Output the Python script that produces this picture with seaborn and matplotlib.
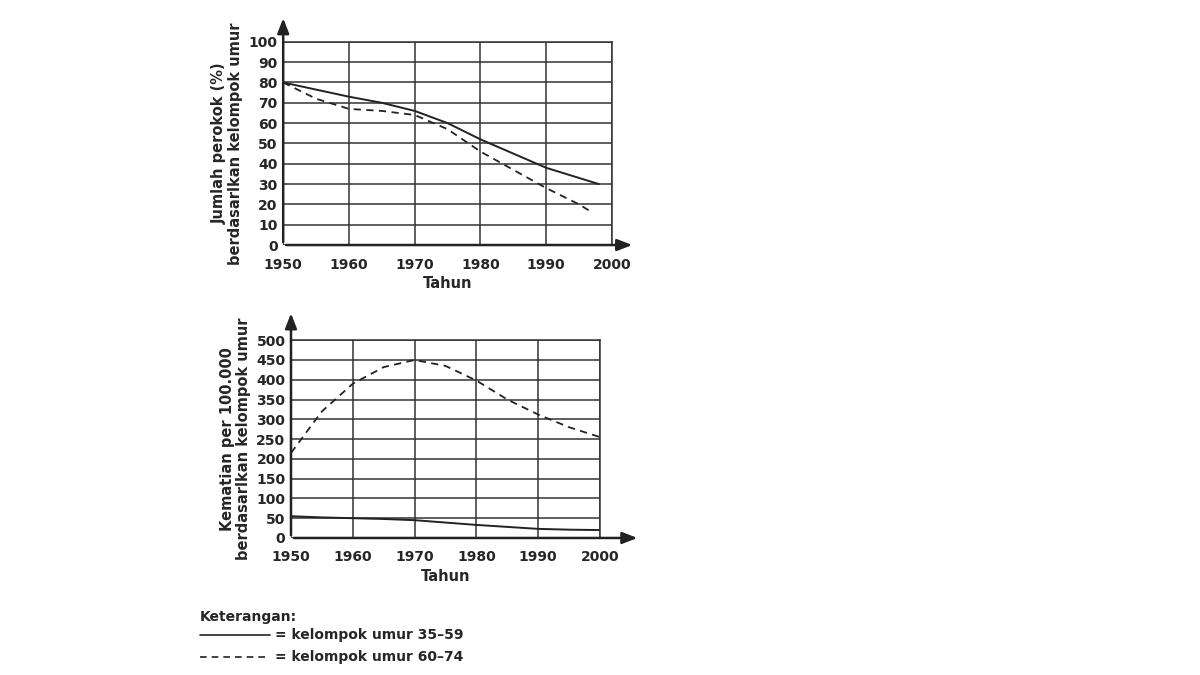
import matplotlib
matplotlib.use("Agg")
import matplotlib.pyplot as plt
import seaborn as sns
import pandas as pd

years_top_a = [1950, 1955, 1960, 1965, 1970, 1975, 1980, 1985, 1990, 1995, 1998]
smokers_35_59 = [80, 76.5, 73, 70, 66, 60, 52, 45, 38, 33, 30]
years_top_b = [1950, 1955, 1960, 1965, 1970, 1975, 1980, 1985, 1990, 1995, 1997]
smokers_60_74 = [80, 72, 67, 66, 64, 57, 46, 37, 28, 20, 16]

years_bot = [1950, 1955, 1960, 1965, 1970, 1975, 1980, 1985, 1990, 1995, 2000]
deaths_35_59 = [55, 52, 50, 48, 45, 39, 33, 28, 23, 21, 20]
deaths_60_74 = [215, 320, 390, 432, 450, 435, 398, 350, 312, 280, 255]

x_ticks = [1950, 1960, 1970, 1980, 1990, 2000]
top_yticks = list(range(0, 101, 10))
bot_yticks = list(range(0, 501, 50))

plt.rcParams["font.family"] = "Open Sans"
plt.rcParams["font.weight"] = "bold"
sns.set_style("white")
fig = plt.figure(figsize=(12, 6.75), dpi=100)

def style(ax, ylim, yticks, ylabel, xarrow, yarrow):
    ax.set_xlim(1950, 2000)
    ax.set_ylim(*ylim)
    ax.set_xticks(x_ticks)
    ax.set_yticks(yticks)
    ax.set_xticklabels([str(v) for v in x_ticks], fontsize=10, fontweight="bold")
    ax.set_yticklabels([str(v) for v in yticks], fontsize=10, fontweight="bold")
    ax.tick_params(axis="y", length=0, pad=4)
    ax.tick_params(axis="x", length=0, pad=9)
    ax.grid(True, color="#333333", lw=1.1)
    for s in ["top", "right"]:
        ax.spines[s].set_color("#333333"); ax.spines[s].set_linewidth(1.1)
    for s in ["left", "bottom"]:
        ax.spines[s].set_visible(False)
    ax.annotate("", xy=(xarrow, 0), xytext=(0, 0), xycoords="axes fraction",
                arrowprops=dict(arrowstyle="-|>,head_width=0.35,head_length=0.9", color="#222222", lw=1.8), annotation_clip=False)
    ax.annotate("", xy=(0, yarrow), xytext=(0, 0), xycoords="axes fraction",
                arrowprops=dict(arrowstyle="-|>,head_width=0.35,head_length=0.9", color="#222222", lw=1.8), annotation_clip=False)
    ax.set_xlabel("Tahun", fontsize=10.5, fontweight="bold", labelpad=3)
    ax.set_ylabel(ylabel, fontsize=10.5, fontweight="bold", linespacing=1.1, labelpad=4)

ax1 = fig.add_axes([0.236, 0.637, 0.274, 0.301])
sns.lineplot(x=years_top_a, y=smokers_35_59, ax=ax1, color="#222222", lw=1.4)
ax1.plot(years_top_b, smokers_60_74, color="#222222", lw=1.3, ls=(0, (4, 3)))
style(ax1, (0, 100), top_yticks, "Jumlah perokok (%)\nberdasarlkan kelompok umur", 1.07, 1.13)

ax2 = fig.add_axes([0.2425, 0.203, 0.2575, 0.293])
sns.lineplot(x=years_bot, y=deaths_35_59, ax=ax2, color="#222222", lw=1.4)
ax2.plot(years_bot, deaths_60_74, color="#222222", lw=1.3, ls=(0, (4, 3)))
style(ax2, (0, 500), bot_yticks, "Kematian per 100.000\nberdasarlkan kelompok umur", 1.13, 1.15)

fig.text(200/1200, 1-617/675, "Keterangan:", fontsize=10, fontweight="bold", va="center")
fig.add_artist(plt.Line2D([200/1200, 270/1200], [1-635/675]*2, color="#222222", lw=1.2))
fig.text(275/1200, 1-635/675, "= kelompok umur 35–59", fontsize=10, fontweight="bold", va="center")
fig.add_artist(plt.Line2D([200/1200, 270/1200], [1-657/675]*2, color="#222222", lw=1.2, ls=(0, (4, 3))))
fig.text(275/1200, 1-657/675, "= kelompok umur 60–74", fontsize=10, fontweight="bold", va="center")

fig.savefig("out.png", dpi=100)
